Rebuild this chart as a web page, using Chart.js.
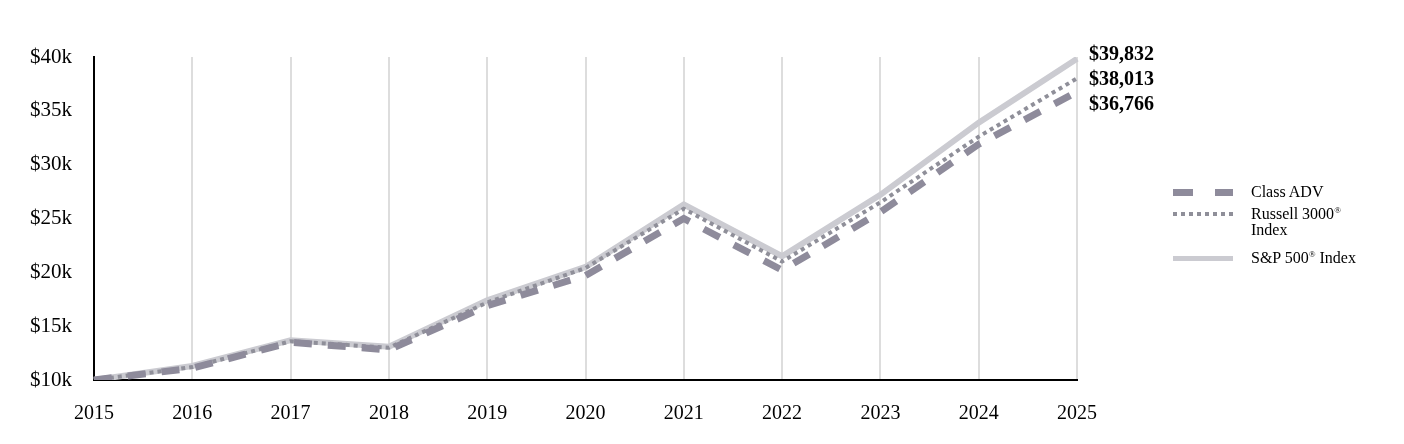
<!DOCTYPE html>
<html>
<head>
<meta charset="utf-8">
<script src="https://cdn.jsdelivr.net/npm/chart.js@4.4.1/dist/chart.umd.min.js"></script>
<style>
  html, body { margin: 0; padding: 0; background: #fff; }
  #wrap { position: relative; width: 1404px; height: 444px; }
  #legend { position: absolute; left: 1173px; top: 184px; font-family: "Liberation Serif", "Times New Roman", serif; font-size: 16px; color: #000; }
  #legend .item { position: relative; padding-left: 78px; line-height: 16px; }
  #legend .i1 { margin-bottom: 6px; }
  #legend .i2 { margin-bottom: 12px; }
  #legend .sw { position: absolute; left: 0; top: 5px; width: 60px; height: 7px; }
  #legend sup { font-size: 9px; line-height: 0; vertical-align: 6px; }
  .sw-adv { background: linear-gradient(to right, #8e8b9b 0 20px, transparent 20px 42px, #8e8b9b 42px 60px); }
  .sw-rus { background: repeating-linear-gradient(to right, #8f8f99 0 4px, transparent 4px 8px); height: 4px !important; top: 6px !important; }
  .sw-sp { background: #cbcbd1; height: 5px !important; top: 6px !important; }
</style>
</head>
<body>
<div id="wrap">
  <canvas id="chart" width="1404" height="444"></canvas>
  <div id="legend">
    <div class="item i1"><span class="sw sw-adv"></span>Class ADV</div>
    <div class="item i2"><span class="sw sw-rus"></span>Russell 3000<sup>®</sup><br>Index</div>
    <div class="item i3"><span class="sw sw-sp"></span>S&amp;P 500<sup>®</sup> Index</div>
  </div>
</div>
<script>
/** data */
var years = ['2015', '2016', '2017', '2018', '2019', '2020', '2021', '2022', '2023', '2024', '2025'];
var classAdv = [10000, 11100, 13500, 12800, 16900, 19700, 25000, 20200, 25600, 31900, 36766];
var russell3000 = [10000, 11200, 13600, 13000, 17200, 20400, 25900, 21000, 26500, 32600, 38013];
var sp500 = [10000, 11300, 13700, 13100, 17400, 20500, 26300, 21500, 27200, 33900, 39832];

var serif = '"Liberation Serif", "Times New Roman", serif';

// end of line value labels, spread so they don't overlap
var endLabels = {
    id: 'endLabels',
    afterDatasetsDraw: function (chart) {
        var ctx = chart.ctx;
        var yScale = chart.scales.y;
        var items = [];
        chart.data.datasets.forEach(function (ds) {
            var v = ds.data[ds.data.length - 1];
            items.push({ v: v, y: yScale.getPixelForValue(v) });
        });
        items.sort(function (a, b) { return a.y - b.y; });
        var gap = 25;
        var mid = Math.floor(items.length / 2);
        for (var i = 0; i < items.length; i++) {
            items[i].y = items[mid].y + (i - mid) * gap;
        }
        ctx.save();
        ctx.font = 'bold 20px ' + serif;
        ctx.fillStyle = '#000';
        ctx.textAlign = 'left';
        ctx.textBaseline = 'middle';
        items.forEach(function (it) {
            ctx.fillText('$' + it.v.toLocaleString('en-US'), chart.chartArea.right + 12, it.y + 1.5);
        });
        ctx.restore();
    }
};

var ctx = document.getElementById('chart').getContext('2d');
new Chart(ctx, {
    type: 'line',
    data: {
        labels: years,
        datasets: [
            {
                label: 'Class ADV',
                data: classAdv,
                borderColor: '#8e8b9b',
                borderWidth: 7,
                borderDash: [18, 16],
                borderCapStyle: 'butt'
            },
            {
                label: 'Russell 3000® Index',
                data: russell3000,
                borderColor: '#8f8f99',
                borderWidth: 4,
                borderDash: [4, 4],
                borderCapStyle: 'butt'
            },
            {
                label: 'S&P 500® Index',
                data: sp500,
                borderColor: '#cbcbd1',
                borderWidth: 6
            }
        ]
    },
    options: {
        responsive: false,
        animation: false,
        devicePixelRatio: 1,
        elements: { point: { radius: 0 }, line: { tension: 0, fill: false } },
        layout: { padding: { top: 57, right: 327, bottom: 0, left: 0 } },
        plugins: { legend: { display: false }, tooltip: { enabled: false } },
        scales: {
            x: {
                offset: false,
                grid: { display: true, color: '#dddddd', lineWidth: 2, drawTicks: false },
                border: { display: true, color: '#000', width: 2 },
                ticks: { color: '#000', font: { family: serif, size: 20 }, padding: 22, maxRotation: 0 },
                afterFit: function (scale) { scale.height = 64; }
            },
            y: {
                min: 10000,
                max: 40000,
                grid: { display: false, drawTicks: false },
                border: { display: true, color: '#000', width: 2 },
                ticks: {
                    stepSize: 5000,
                    color: '#000',
                    padding: 22,
                    font: { family: serif, size: 21 },
                    callback: function (v) { return '$' + (v / 1000) + 'k'; }
                },
                afterFit: function (scale) { scale.width = 94; }
            }
        }
    },
    plugins: [endLabels]
});
</script>
</body>
</html>
